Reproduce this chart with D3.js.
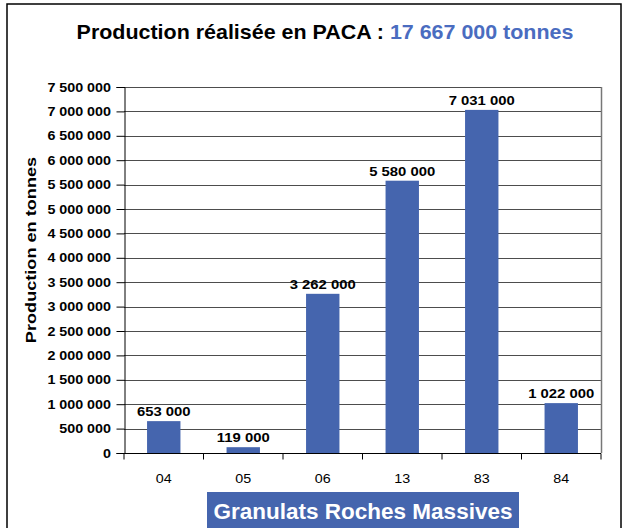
<!DOCTYPE html>
<html>
<head>
<meta charset="utf-8">
<script src="https://cdn.jsdelivr.net/npm/d3@7"></script>
<style>
  body { margin: 0; background: #fff; }
  svg { display: block; font-family: Arial, "Liberation Sans", sans-serif; }
</style>
</head>
<body>
<svg id="chart" width="635" height="528"></svg>
<script>
let departements = ["04", "05", "06", "13", "83", "84"];
let production = [653000, 119000, 3262000, 5580000, 7031000, 1022000];
let yTicks = d3.range(0, 7500001, 500000);
let totalLabel = "17 667 000 tonnes";

let width = 635;
let height = 528;
let margin = {top: 87, right: 34, bottom: 75, left: 124};
let sx = 1.1; // the original text looks a bit wider than plain Arial

let svg = d3.select("#chart");

// number format with spaces as thousands separator
let fr = d3.formatLocale({decimal: ",", thousands: " ", grouping: [3], currency: ["", " €"]});
let fmt = fr.format(",d");

// put a text at (x, y), stretched a little horizontally
function place(sel, x, y, s) {
    sel.attr("x", 0).attr("y", 0)
       .attr("transform", `translate(${x},${y}) scale(${s || sx},1)`);
    return sel;
}

// outer frame
svg.append("rect")
    .attr("x", 7).attr("y", 4)
    .attr("width", 614).attr("height", 540)
    .attr("fill", "none")
    .attr("stroke", "#000")
    .attr("stroke-width", 1.5);

// title
let title = svg.append("text")
    .attr("text-anchor", "middle")
    .attr("font-size", 19.5)
    .attr("font-weight", "bold");
place(title, 325, 39);
title.append("tspan").attr("fill", "#000").text("Production réalisée en PACA : ");
title.append("tspan").attr("fill", "#4a6cc0").text(totalLabel);

let x = d3.scaleBand()
    .domain(departements)
    .range([margin.left, width - margin.right])
    .paddingInner(0.58)
    .paddingOuter(0.29);

let y = d3.scaleLinear()
    .domain([0, 7500000])
    .range([height - margin.bottom, margin.top]);

let plotRight = width - margin.right;
let plotBottom = y(0);

// gridlines
svg.append("g")
    .selectAll("line")
    .data(yTicks.slice(1))
    .join("line")
    .attr("x1", margin.left).attr("x2", plotRight)
    .attr("y1", d => Math.round(y(d)) + 0.5).attr("y2", d => Math.round(y(d)) + 0.5)
    .attr("stroke", "#4d4d4d")
    .attr("stroke-width", 1);

// plot area right border
svg.append("line")
    .attr("x1", plotRight + 0.5).attr("x2", plotRight + 0.5)
    .attr("y1", y(7500000)).attr("y2", plotBottom)
    .attr("stroke", "#777").attr("stroke-width", 1.5);

// bars
svg.append("g")
    .selectAll("rect")
    .data(production)
    .join("rect")
    .attr("x", (d, i) => x(departements[i]))
    .attr("y", d => y(d))
    .attr("width", x.bandwidth())
    .attr("height", d => plotBottom - y(d))
    .attr("fill", "#4565ae");

// value labels
svg.append("g")
    .selectAll("text")
    .data(production)
    .join("text")
    .attr("text-anchor", "middle")
    .attr("font-size", 13.5)
    .attr("font-weight", "bold")
    .text(d => fmt(d))
    .each(function(d, i) {
        place(d3.select(this), x(departements[i]) + x.bandwidth() / 2, y(d) - 5);
    });

// y axis
let yAxis = svg.append("g")
    .attr("transform", `translate(${margin.left + 0.5},0)`)
    .call(d3.axisLeft(y).tickValues(yTicks).tickSize(8).tickPadding(4).tickFormat(fmt));
yAxis.select(".domain").attr("stroke", "#000");
yAxis.selectAll(".tick line").attr("stroke", "#000");
yAxis.selectAll(".tick text")
    .attr("font-size", 13)
    .attr("font-weight", "bold")
    .attr("font-family", "Arial, 'Liberation Sans', sans-serif")
    .attr("fill", "#000")
    .attr("x", -12.3)
    .attr("transform", `scale(${sx},1)`);

// x axis with tick marks at band edges
let xAxis = svg.append("g")
    .attr("transform", `translate(0,${Math.round(plotBottom) + 0.5})`);
xAxis.append("line")
    .attr("x1", margin.left).attr("x2", plotRight)
    .attr("stroke", "#000");
let edgeX = departements.map(d => x(d) - x.step() * x.paddingInner() / 2).concat([plotRight]);
xAxis.selectAll("line.tick")
    .data(edgeX)
    .join("line")
    .attr("class", "tick")
    .attr("x1", d => d).attr("x2", d => d)
    .attr("y1", 0).attr("y2", 6)
    .attr("stroke", "#000");
xAxis.selectAll("text")
    .data(departements)
    .join("text")
    .attr("text-anchor", "middle")
    .attr("font-size", 13)
    .text(d => d)
    .each(function(d) {
        place(d3.select(this), x(d) + x.bandwidth() / 2, 29);
    });

// y axis title
svg.append("text")
    .attr("transform", "translate(36,250) rotate(-90) scale(1.17,1)")
    .attr("text-anchor", "middle")
    .attr("font-size", 15.5)
    .attr("font-weight", "bold")
    .text("Production en tonnes");

// bottom banner
svg.append("rect")
    .attr("x", 207).attr("y", 492)
    .attr("width", 312).attr("height", 40)
    .attr("fill", "#4565ae");
svg.append("text")
    .attr("x", 363).attr("y", 519)
    .attr("text-anchor", "middle")
    .attr("font-size", 22.5)
    .attr("font-weight", "bold")
    .attr("fill", "#fff")
    .text("Granulats Roches Massives");
</script>
</body>
</html>
